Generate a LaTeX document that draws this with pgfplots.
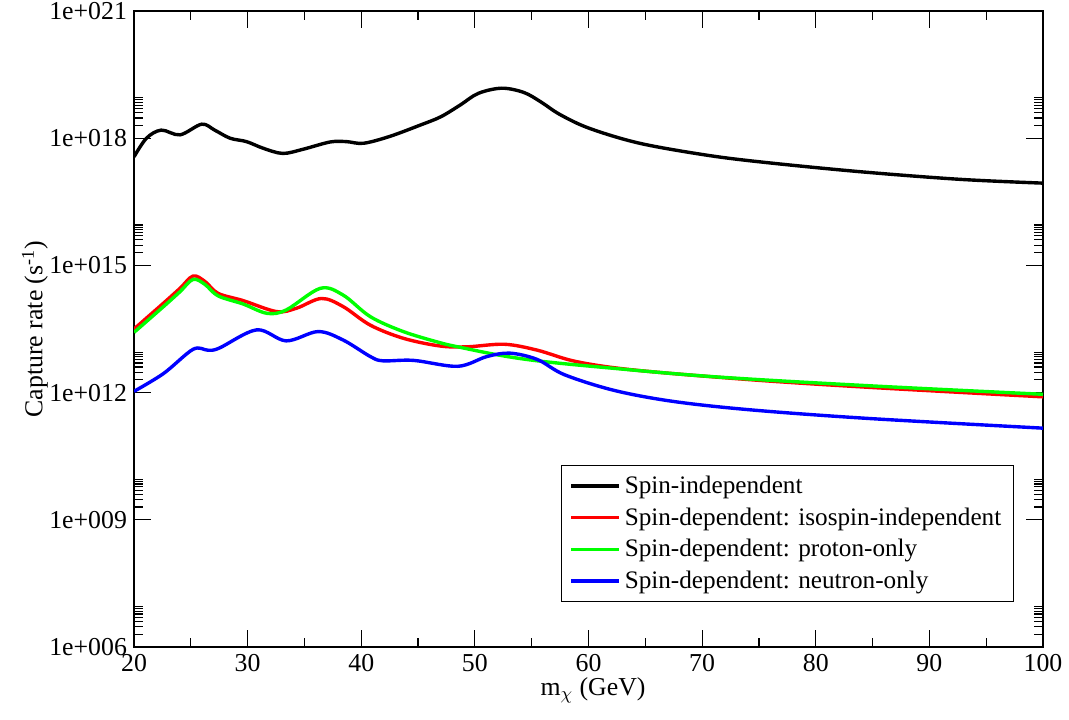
\documentclass[border=0pt]{standalone}
\usepackage{pgfplots}
\pgfplotsset{compat=1.18}
\usepackage{fontspec}
\setmainfont{Liberation Serif}
\begin{document}
\begin{tikzpicture}
\path[use as bounding box] (0pt,0pt) rectangle (534.5pt,359.5pt);
\begin{axis}[
  at={(67pt,36pt)}, anchor=south west,
  scale only axis, width=454.5pt, height=318pt,
  xmin=20, xmax=100, ymode=log, ymin=1e6, ymax=1e21,
  xtick={20,30,...,100}, minor xtick={25,35,...,95},
  ytick={1e6,1e9,1e12,1e15,1e18,1e21},
  yticklabels={1e+006,1e+009,1e+012,1e+015,1e+018,1e+021},
  minor ytick={2e6,3e6,4e6,5e6,6e6,7e6,8e6,9e6,
               2e9,3e9,4e9,5e9,6e9,7e9,8e9,9e9,
               2e12,3e12,4e12,5e12,6e12,7e12,8e12,9e12,
               2e15,3e15,4e15,5e15,6e15,7e15,8e15,9e15,
               2e18,3e18,4e18,5e18,6e18,7e18,8e18,9e18},
  major tick length=8.5pt, minor tick length=4.5pt,
  tick style={black, line width=0.6pt},
  axis line style={line width=0.9pt},
  /pgf/number format/assume math mode=true,
  ticklabel style={font=\fontsize{12.9}{15}\selectfont},
  label style={font=\fontsize{12.9}{15}\selectfont},
  xlabel={m\textsubscript{$\chi$} (GeV)},
  ylabel={Capture rate (s\textsuperscript{-1})},
  xlabel style={at={(axis description cs:0.505,-0.068)}, anchor=center},
  ylabel style={at={(axis description cs:-0.109,0.5)}, anchor=center},
  legend style={at={(0.968,0.0708)}, anchor=south east,
    font=\fontsize{12.6}{15}\selectfont, draw=black, line width=0.6pt,
    inner xsep=4pt, inner ysep=3pt, row sep=1.6pt},
  legend cell align=left,
  legend image code/.code={\draw[#1, line width=1.7pt] (0pt,0pt) -- (18.5pt,0pt);
     \path (0pt,0pt) -- (24pt,0pt);},
  every axis plot/.append style={line width=1.7pt, smooth, tension=0.55},
]
\addplot[black] coordinates {
(20,3.63e17) (21.1,1.0e18) (22.4,1.55e18) (24.05,1.2e18) (25.96,2.14e18)
(27.1,1.55e18) (28.45,1.0e18) (29.9,8.3e17) (31.4,5.75e17) (33.1,4.37e17)
(34.9,5.5e17) (37.25,8.13e17) (38.7,8.3e17) (40.2,7.59e17) (42.5,1.1e18)
(45.2,2.04e18) (47.0,3.2e18) (48.7,6.03e18) (50.3,1.14e19) (52.36,1.51e19)
(54.3,1.2e19) (55.8,7.2e18) (57.5,3.6e18) (60.1,1.70e18) (64.5,7.59e17) (70.4,3.98e17)
(75.5,2.69e17) (83.9,1.62e17) (92.7,1.07e17) (100,8.71e16)
};
\addlegendentry{Spin-independent}
\addplot[red] coordinates {
(20,3.16e13) (22.6,1.29e14) (24.05,2.88e14) (25.2,5.62e14) (26.25,4.17e14)
(27.4,2.19e14) (29.6,1.48e14) (32.56,8.13e13) (34.3,9.77e13) (36.5,1.66e14)
(38.4,1.07e14) (40.8,3.89e13) (43.7,1.91e13) (46.9,1.26e13) (49.3,1.2e13)
(52.6,1.38e13) (55.5,1.0e13) (58.95,5.37e12) (64.1,3.39e12) (74.4,2.0e12)
(84.7,1.33e12) (100,7.94e11)
};
\addlegendentry{Spin-dependent: isospin-independent}
\addplot[color={rgb,255:red,0;green,255;blue,0}] coordinates {
(20,2.63e13) (22.6,1.07e14) (24.05,2.4e14) (25.2,4.68e14) (26.25,3.55e14)
(27.4,1.91e14) (29.6,1.23e14) (31.7,7.41e13) (33.4,8.91e13) (36.4,2.88e14)
(38.4,2.0e14) (40.8,6.17e13) (43.7,2.75e13) (46.9,1.51e13) (48.7,1.17e13)
(52.2,7.59e12) (55.5,5.62e12) (60.7,4.07e12) (71.0,2.37e12) (84.7,1.45e12)
(100,9.12e11)
};
\addlegendentry{Spin-dependent: proton-only}
\addplot[blue] coordinates {
(20,1.07e12) (22.6,2.82e12) (25.2,1.05e13) (26.5,1.0e13) (27.5,1.12e13)
(30.8,3.02e13) (33.4,1.66e13) (36.2,2.75e13) (38.4,1.74e13) (40.8,7.08e12)
(41.9,5.62e12) (44.6,5.75e12) (48.5,4.17e12) (51.05,7.08e12) (53.1,8.51e12)
(55.5,6.03e12) (57.9,2.63e12) (62.3,1.12e12) (67.5,6.17e11) (74.4,3.89e11)
(84.7,2.45e11) (100,1.45e11)
};
\addlegendentry{Spin-dependent: neutron-only}
\end{axis}
\end{tikzpicture}
\end{document}
